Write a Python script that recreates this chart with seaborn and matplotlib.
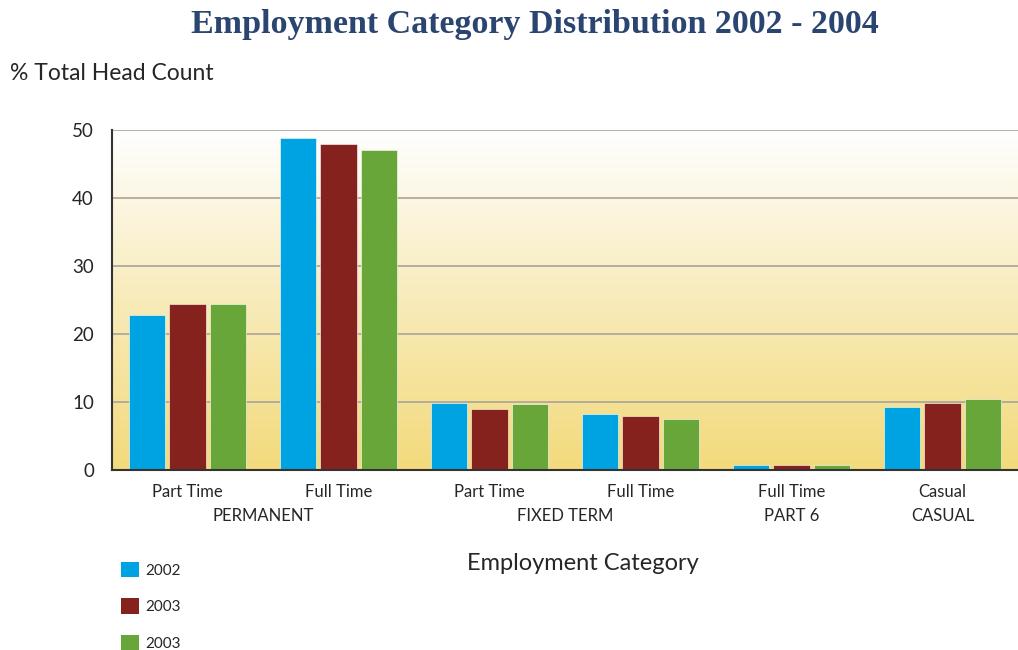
import numpy as np
import pandas as pd
import matplotlib
matplotlib.use("Agg")
import matplotlib.pyplot as plt
import seaborn as sns
from matplotlib.colors import LinearSegmentedColormap
from matplotlib.patches import Patch
import matplotlib.transforms as mtransforms

# ---- data ----
groups = ["PERMANENT", "PERMANENT", "FIXED TERM", "FIXED TERM", "PART 6", "CASUAL"]
subcats = ["Part Time", "Full Time", "Part Time", "Full Time", "Full Time", "Casual"]
group_labels = ["PERMANENT", "FIXED TERM", "PART 6", "CASUAL"]
group_centers = [0.5, 2.5, 4.0, 5.0]
years = ["2002", "2003", "2004"]
legend_labels = ["2002", "2003", "2003"]
v2002 = [22.8, 48.8, 9.9, 8.3, 0.7, 9.3]
v2003 = [24.4, 47.9, 9.0, 8.0, 0.8, 9.8]
v2004 = [24.4, 47.0, 9.7, 7.5, 0.8, 10.4]
yticks = [0, 10, 20, 30, 40, 50]
colors = ["#00a3e2", "#86221e", "#68a639"]

keys = [f"{g}|{s}|{i}" for i, (g, s) in enumerate(zip(groups, subcats))]
rows = []
for yr, vals in zip(years, [v2002, v2003, v2004]):
    for k, v in zip(keys, vals):
        rows.append({"key": k, "year": yr, "value": v})
df = pd.DataFrame(rows)

sns.set_style("white")
plt.rcParams["font.family"] = ["Lato", "DejaVu Sans"]

fig = plt.figure(figsize=(10.18, 6.5), dpi=100)
ax = fig.add_axes([112 / 1018, 1 - 470 / 650, 1 - 112 / 1018, 340 / 650])

# gradient background
cmap = LinearSegmentedColormap.from_list("bg", ["#ffffff", "#f8ebba", "#f3da7c"])
ax.imshow(np.linspace(0, 1, 256).reshape(-1, 1), cmap=cmap, aspect="auto",
          extent=[0, 1, 0, 1], transform=ax.transAxes, zorder=0)

for y in yticks[1:]:
    ax.axhline(y, color="#a8a39a", lw=1.2, zorder=1)

sns.barplot(data=df, x="key", y="value", hue="year", order=keys, hue_order=years,
            palette=colors, saturation=1, width=0.8, gap=0.1, ax=ax, zorder=3,
            edgecolor="#ffffff", linewidth=0.4, legend=False)

ax.set_xlim(-0.5, len(keys) - 0.5)
ax.set_ylim(0, 50)
ax.set_yticks(yticks)
ax.set_yticklabels([str(t) for t in yticks], fontsize=13.5)
ax.tick_params(axis="y", length=0, pad=13)
ax.set_xticks(range(len(keys)))
ax.set_xticklabels(subcats, fontsize=12)
ax.tick_params(axis="x", which="major", length=0, pad=10)
ax.set_xticks([i + 0.5 for i in range(len(keys) - 1)], minor=True)
ax.tick_params(axis="x", which="minor", direction="in", length=7, width=1.2, color="#333333")
ax.set_xlabel("")
ax.set_ylabel("")

for s in ["top", "right"]:
    ax.spines[s].set_visible(False)
for s in ["left", "bottom"]:
    ax.spines[s].set_color("#333333")
    ax.spines[s].set_linewidth(1.5)
    ax.spines[s].set_zorder(5)

trans = mtransforms.blended_transform_factory(ax.transData, fig.transFigure)
for c, lab in zip(group_centers, group_labels):
    ax.text(c, 1 - 516 / 650, lab, transform=trans, ha="center", va="center", fontsize=12)

fig.text(535 / 1018, 1 - 24 / 650, "Employment Category Distribution 2002 - 2004",
         ha="center", va="center", fontsize=24.5, fontweight="bold",
         family=["Liberation Serif", "DejaVu Serif"], color="#2b4571")
fig.text(10 / 1018, 1 - 73 / 650, "% Total Head Count", ha="left", va="center", fontsize=16.5)
fig.text(583 / 1018, 1 - 563 / 650, "Employment Category", ha="center", va="center", fontsize=17)

handles = [Patch(facecolor=c, edgecolor="none") for c in colors]
fig.legend(handles, legend_labels, loc="upper left",
           bbox_to_anchor=(115 / 1018, 1 - 556 / 650), frameon=False,
           fontsize=11, handlelength=1.15, handleheight=1.15, labelspacing=1.35,
           handletextpad=0.45, borderaxespad=0)

fig.savefig("out.png", dpi=100)
